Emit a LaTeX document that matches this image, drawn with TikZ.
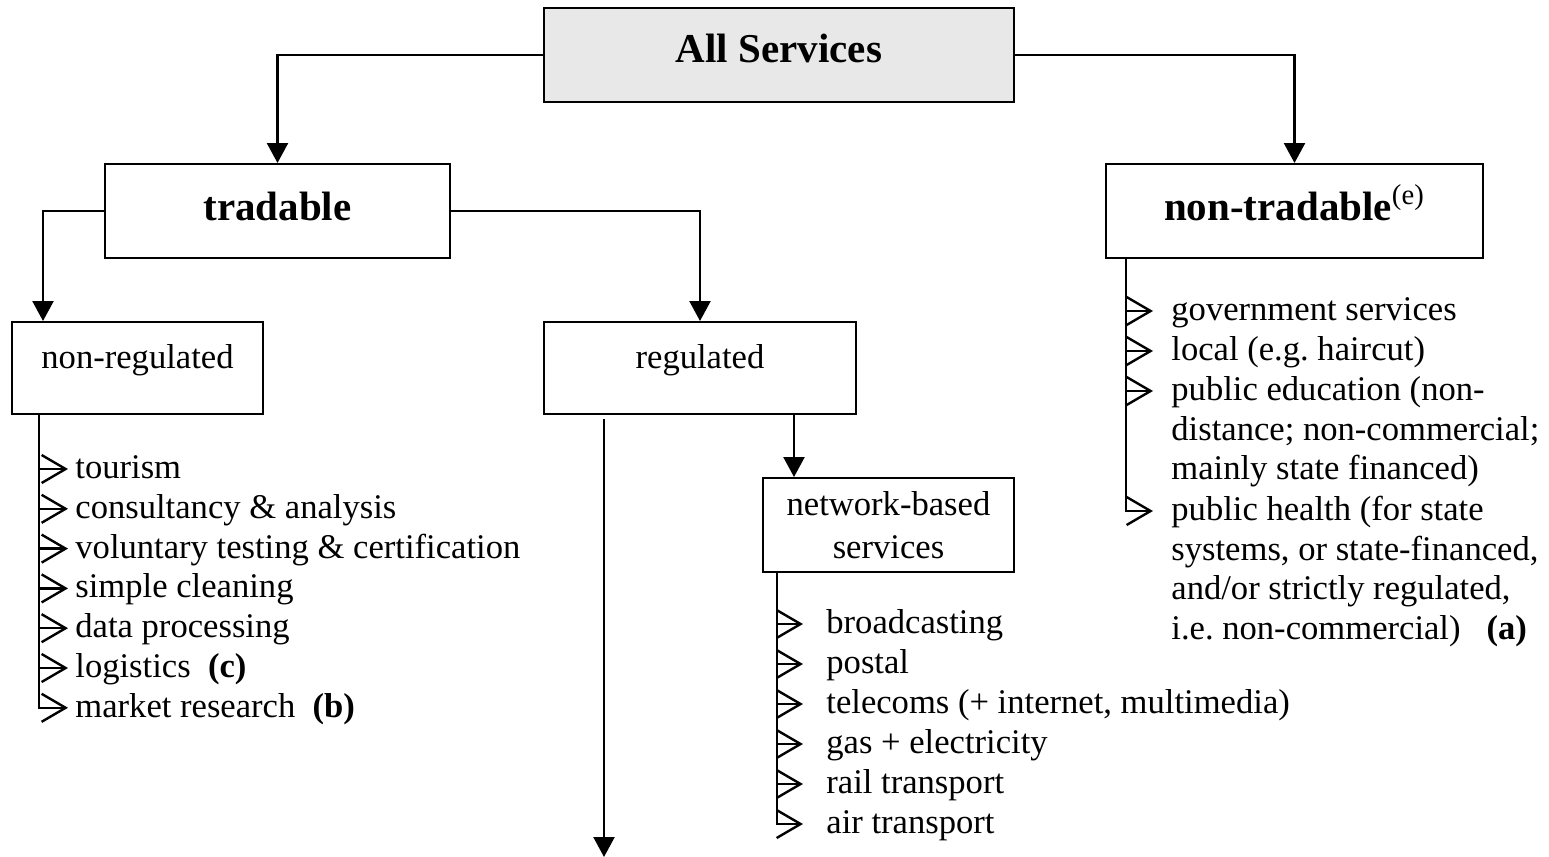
\documentclass[tikz,border=0pt]{standalone}
\usepackage{fontspec}
\setmainfont{Liberation Serif}
\usetikzlibrary{positioning,arrows.meta}

\begin{document}
\begin{tikzpicture}[x=0.5pt, y=-0.5pt, font=\fontsize{17.3}{19.8}\selectfont,
  box/.style={draw, line width=1pt, inner sep=0pt},
  head/.style={box, font=\fontsize{20.5}{24}\selectfont\bfseries, minimum height=47pt, text height=28pt, text depth=19pt},
  sub/.style={box, minimum height=46pt, text height=23pt, text depth=23pt},
  tip/.style={line width=1.2pt, -{Triangle[length=10pt,width=10.5pt]}},
  barb/.style={line width=1.2pt, -{Straight Barb[length=12pt,width=14pt]}},
  item/.style={anchor=north west, yshift=13.86pt, inner sep=0pt, align=left}]
  \useasboundingbox (0,0) rectangle (1549,857);

  % boxes
  \node[head, fill=black!9, minimum width=235pt, text height=27pt, text depth=20pt] (all) at (779,55) {All Services};
  \node[head, minimum width=172.5pt] (trad) at (277.5,211) {tradable};
  \node[head, minimum width=188.5pt] (ntrad) at (1294.5,211) {non-tradable\textsuperscript{\normalfont(e)}};
  \node[sub, minimum width=125.5pt] (nonreg) at (137.5,368) {non-regulated};
  \node[sub, minimum width=156pt] (reg) at (700,368) {regulated};
  \node[box, minimum width=125.5pt, minimum height=47pt, align=center, font=\fontsize{17.3}{21.5}\selectfont] (net) at (888.5,525) {network-based\\services};

  % tree
  \coordinate (netin) at ([xshift=16pt]net.north west);
  \coordinate (more) at (604,857);
  \draw[tip] (all.west) -| (trad.north);
  \draw[tip] (all.east) -| (ntrad.north);
  \draw[tip] (trad.west) -| ([xshift=16pt]nonreg.north west);
  \draw[tip] (trad.east) -| (reg.north);
  \draw[tip] (netin |- reg.south) -- (netin);
  \draw[tip] (more |- reg.south) ++(0,4) -- (more);

  % lists (positions are baselines of the first line)
  \foreach \t [count=\i from 0] in {tourism, consultancy \& analysis, voluntary testing \& certification,
      simple cleaning, data processing, logistics\enspace\textbf{(c)}, market research\enspace\textbf{(b)}} {
    \node[item] (nr\i) at (75,478+39.8*\i) {\strut\t};
    \draw[barb] ([xshift=14pt]nonreg.south west) |- ([xshift=-3.5pt,yshift=-9.36pt]nr\i.north west);
  }
  \foreach \t [count=\i from 0] in {broadcasting, postal, {telecoms (+ internet, multimedia)},
      gas + electricity, rail transport, air transport} {
    \node[item] (nb\i) at (826,633+40*\i) {\strut\t};
    \draw[barb] ([xshift=7.5pt]net.south west) |- ([xshift=-11.5pt,yshift=-9.36pt]nb\i.north west);
  }
  \foreach \t/\y [count=\i] in {government services/320, local (e.g.\ haircut)/360,
      {public education (non-\\distance; non-commercial;\\mainly state financed)}/400,
      {public health (for state\\systems, or state-financed,\\and/or strictly regulated,\\i.e.\ non-commercial)\hskip13pt\textbf{(a)}}/520} {
    \node[item] (nt\i) at (1171,\y) {\strut\t};
    \draw[barb] ([xshift=10.5pt]ntrad.south west) |- ([xshift=-9pt,yshift=-9.36pt]nt\i.north west);
  }
\end{tikzpicture}
\end{document}
